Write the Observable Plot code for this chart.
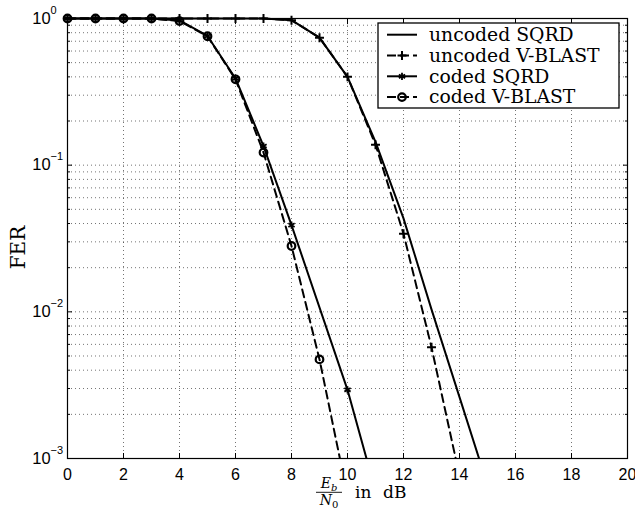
<!DOCTYPE html>
<html><head><meta charset="utf-8">
<script src="https://cdn.jsdelivr.net/npm/d3@7"></script>
<script src="https://cdn.jsdelivr.net/npm/@observablehq/plot@0.6"></script>
<style>body{margin:0;background:#fff} svg{display:block}</style>
</head><body><div id="chart"></div>
<script>
// Eb/N0 in dB, and FER values per series
const ebn0Uncoded   = [0,1,2,3,4,5,6,7,8,9,10,11,12,13,14,15];
const uncodedSQRD   = [1,1,1,1,1,1,1,1,0.974,0.74,0.40,0.144,0.0434,0.0104,0.00262,0.00066];
const ebn0UncodedVB = [0,1,2,3,4,5,6,7,8,9,10,11,12,13,14];
const uncodedVBLAST = [1,1,1,1,1,1,1,1,0.974,0.74,0.40,0.138,0.0341,0.00574,0.00076];
const ebn0CodedSQRD = [0,1,2,3,4,5,6,7,8,10,11];
const codedSQRD     = [1,1,1,1,0.97,0.76,0.39,0.135,0.039,0.00294,0.0006];
const ebn0CodedVB   = [0,1,2,3,4,5,6,7,8,9,10];
const codedVBLAST   = [1,1,1,1,0.96,0.757,0.385,0.122,0.0281,0.00474,0.00056];
const seriesNames = ["uncoded SQRD","uncoded V-BLAST","coded SQRD","coded V-BLAST"];
const seriesX = [ebn0Uncoded, ebn0UncodedVB, ebn0CodedSQRD, ebn0CodedVB];
const seriesValues = [uncodedSQRD, uncodedVBLAST, codedSQRD, codedVBLAST];
const seriesDash = [null, "8,5", null, "8,5"];
const seriesSymbol = [null, "plus", "asterisk", "circle"];
const seriesR = [0, 3, 3.4, 3.8];
const seriesSW = [0, 2, 1.8, 2.2];
// ticks
const xTicks = [0,2,4,6,8,10,12,14,16,18,20];
const yMajor = [1e-3,1e-2,1e-1,1];
const minorMult = [2,3,4,5,6,7,8,9];
const minorDecades = [1e-3,1e-2,1e-1];
const yMinor = minorDecades.flatMap(d => minorMult.map(m => m*d));
const yAll = yMajor.concat(yMinor);

const rows = seriesNames.flatMap((s, i) => seriesValues[i].map((v, j) => ({series: s, x: seriesX[i][j], y: v})));

const gridStyle = {stroke: "#000", strokeOpacity: 0.55, strokeDasharray: "1,3", strokeWidth: 1};
const marks = [
  Plot.gridY(yAll, gridStyle),
  Plot.gridX(xTicks, gridStyle),
];
seriesNames.forEach((s, i) => {
  marks.push(Plot.line(rows.filter(d => d.series === s), {x: "x", y: "y", stroke: "#000", strokeWidth: 2, strokeDasharray: seriesDash[i], clip: true}));
});
seriesNames.forEach((s, i) => {
  if (!seriesSymbol[i]) return;
  marks.push(Plot.dot(rows.filter(d => d.series === s && d.y >= 1e-3), {x: "x", y: "y", symbol: seriesSymbol[i], r: seriesR[i], stroke: "#000", strokeWidth: seriesSW[i], fill: "none"}));
});
marks.push(
  Plot.frame({stroke: "#000", strokeWidth: 1.2}),
  Plot.axisX(xTicks, {anchor: "bottom", tickSize: -5, tickPadding: 15.6, fontSize: 16, label: null}),
  Plot.axisX(xTicks, {anchor: "top", tickSize: -5, tickFormat: () => "", label: null}),
  Plot.axisY(yMajor, {anchor: "left", tickSize: -5, tickPadding: 40.3, textAnchor: "start", fontSize: 16.5, tickFormat: d => "10^" + Math.round(Math.log10(d)), label: null}),
  Plot.axisY(yMajor, {anchor: "right", tickSize: -5, tickFormat: () => "", label: null}),
  Plot.axisY(yMinor, {anchor: "left", tickSize: -3, tickFormat: () => "", label: null}),
  Plot.axisY(yMinor, {anchor: "right", tickSize: -3, tickFormat: () => "", label: null})
);

const plot = Plot.plot({
  width: 635, height: 508,
  marginTop: 18, marginRight: 8, marginBottom: 50, marginLeft: 67,
  style: {fontFamily: "Liberation Sans, Arial, sans-serif", background: "#fff", color: "#000"},
  x: {domain: [0, 20]},
  y: {type: "log", domain: [1e-3, 1]},
  marks
});
document.getElementById("chart").appendChild(plot);

const svg = d3.select(plot);
// superscript exponents on y tick labels
svg.selectAll('g[aria-label="y-axis tick label"] text').each(function() {
  const t = this.textContent;
  if (t.includes("^")) {
    const [b, e] = t.split("^");
    this.textContent = b;
    d3.select(this).append("tspan").attr("dy", -10).attr("font-size", 11).text(e.replace("-", "\u2212"));
  }
});
// let lines at the top edge keep their full width
svg.selectAll("clipPath rect").each(function() {
  const y = +this.getAttribute("y"), h = +this.getAttribute("height");
  this.setAttribute("y", y - 3);
  this.setAttribute("height", h + 3);
});

// legend
const serif = "DejaVu Serif, serif";
const lg = svg.append("g").attr("text-anchor", "start");
lg.append("rect").attr("x", 378).attr("y", 23).attr("width", 241).attr("height", 85)
  .attr("fill", "#fff").attr("stroke", "#000").attr("stroke-width", 1.3);
const symMap = {plus: d3.symbolPlus, asterisk: d3.symbolAsterisk, circle: d3.symbolCircle};
seriesNames.forEach((s, i) => {
  const cy = 34.7 + i * 20.8;
  lg.append("line").attr("x1", 387).attr("x2", 417).attr("y1", cy).attr("y2", cy)
    .attr("stroke", "#000").attr("stroke-width", 2).attr("stroke-dasharray", seriesDash[i] ? "9,4" : null);
  if (seriesSymbol[i]) {
    const r = seriesR[i];
    lg.append("path").attr("d", d3.symbol(symMap[seriesSymbol[i]], Math.PI * r * r)())
      .attr("transform", `translate(402,${cy})`).attr("fill", "none").attr("stroke", "#000")
      .attr("stroke-width", seriesSW[i]);
  }
  lg.append("text").attr("x", 429).attr("y", cy + 6.3).attr("text-anchor", "start").attr("font-family", serif)
    .attr("font-size", 18.8).attr("fill", "#000").text(s);
});

// y axis label
svg.append("text").attr("transform", "translate(25,247.5) rotate(-90)").attr("text-anchor", "middle")
  .attr("font-family", serif).attr("font-size", 20).attr("fill", "#000").text("FER");

// x axis label: Eb/N0 in dB
const xl = svg.append("g").attr("font-family", serif).attr("fill", "#000");
const num = xl.append("text").attr("x", 329).attr("y", 488.3).attr("text-anchor", "middle").attr("font-size", 14);
num.append("tspan").attr("font-style", "italic").text("E");
num.append("tspan").attr("font-style", "italic").attr("font-size", 10).attr("dy", 2.5).text("b");
xl.append("line").attr("x1", 316).attr("x2", 342).attr("y1", 492.3).attr("y2", 492.3).attr("stroke", "#000").attr("stroke-width", 0.9);
const den = xl.append("text").attr("x", 329).attr("y", 505).attr("text-anchor", "middle").attr("font-size", 14);
den.append("tspan").attr("font-style", "italic").text("N");
den.append("tspan").attr("font-size", 10).attr("dy", 2.5).text("0");
xl.append("text").attr("x", 355).attr("y", 497.5).attr("text-anchor", "start").attr("font-size", 17).text("in");
xl.append("text").attr("x", 383).attr("y", 497.5).attr("text-anchor", "start").attr("font-size", 17).text("dB");
</script></body></html>
